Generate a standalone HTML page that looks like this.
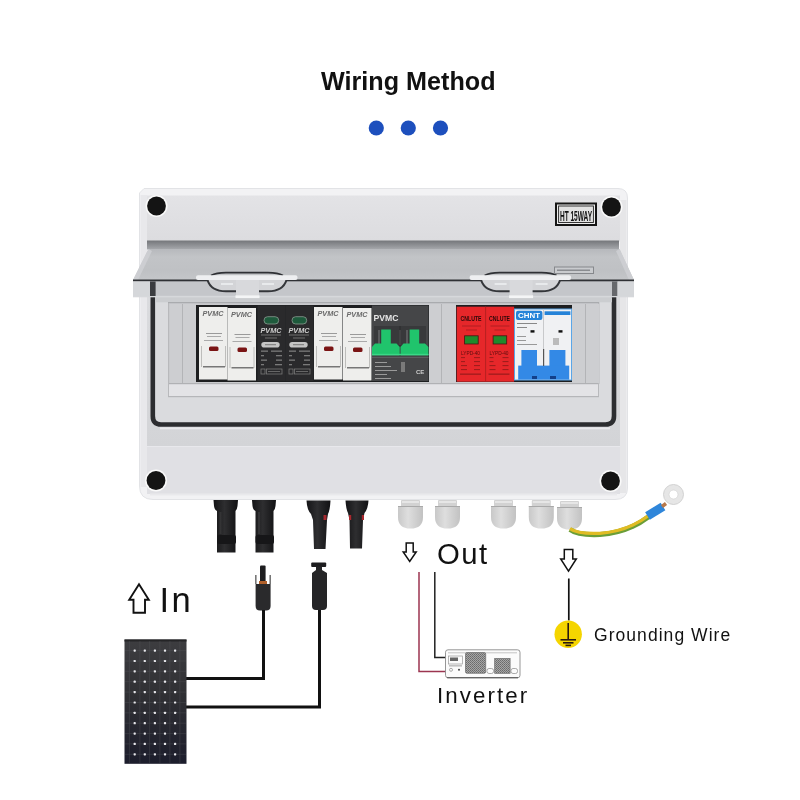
<!DOCTYPE html>
<html><head><meta charset="utf-8">
<style>
html,body{margin:0;padding:0;background:#fff;width:800px;height:800px;overflow:hidden}
svg{position:absolute;left:0;top:0;will-change:transform}
text{font-family:"Liberation Sans",sans-serif}
</style></head>
<body>
<svg width="800" height="800" viewBox="0 0 800 800">
<defs>
  <linearGradient id="lidg" x1="0" y1="0" x2="0" y2="1">
    <stop offset="0" stop-color="#b6b8bc"/>
    <stop offset="0.25" stop-color="#c2c4c7"/>
    <stop offset="0.7" stop-color="#bfc1c4"/>
    <stop offset="1" stop-color="#c4c6c9"/>
  </linearGradient>
  <linearGradient id="panelg" x1="0" y1="0" x2="0" y2="1">
    <stop offset="0" stop-color="#3d3d40"/>
    <stop offset="0.45" stop-color="#303034"/>
    <stop offset="1" stop-color="#1c1d2c"/>
  </linearGradient>
  <linearGradient id="gland" x1="0" y1="0" x2="1" y2="0">
    <stop offset="0" stop-color="#c8c8c8"/>
    <stop offset="0.4" stop-color="#dedede"/>
    <stop offset="1" stop-color="#c2c2c2"/>
  </linearGradient>
  <linearGradient id="lowg" x1="0" y1="0" x2="0" y2="1">
    <stop offset="0" stop-color="#dadbde"/>
    <stop offset="1" stop-color="#d3d4d7"/>
  </linearGradient>
  <linearGradient id="mc4" x1="0" y1="0" x2="1" y2="0">
    <stop offset="0" stop-color="#141416"/>
    <stop offset="0.45" stop-color="#2e2e30"/>
    <stop offset="1" stop-color="#111113"/>
  </linearGradient>
  <pattern id="mesh" width="2" height="2" patternUnits="userSpaceOnUse"><rect width="2" height="2" fill="#a6a6a6"/><rect width="1" height="1" fill="#6a6a6a"/><rect x="1" y="1" width="1" height="1" fill="#777"/></pattern>
</defs>

<!-- Title -->
<text x="408.3" y="90" font-size="26" font-weight="bold" text-anchor="middle" fill="#111" textLength="174.5" lengthAdjust="spacingAndGlyphs">Wiring Method</text>
<circle cx="376.3" cy="128" r="7.6" fill="#1d4fbd"/>
<circle cx="408.3" cy="128" r="7.6" fill="#1d4fbd"/>
<circle cx="440.5" cy="128" r="7.6" fill="#1d4fbd"/>

<!-- Box body -->
<path d="M144 188.5 H618 Q627.5 188.5 627.5 198 V488 Q627.5 499.5 615 499.5 H153 Q139.5 499.5 139.5 486 V193 Z" fill="#f2f2f4" stroke="#e2e3e6" stroke-width="1"/>
<linearGradient id="faceg" x1="0" y1="0" x2="0" y2="1"><stop offset="0" stop-color="#e3e3e6"/><stop offset="1" stop-color="#dcdcdf"/></linearGradient>
<rect x="147" y="195.5" width="473" height="46" fill="url(#faceg)"/>
<rect x="140.5" y="195" width="6.5" height="292" fill="#e8e8eb"/>
<rect x="620" y="200" width="6.5" height="293" fill="#e6e6e8"/>
<!-- bottom section -->
<rect x="147" y="447" width="473" height="47" fill="#e0e0e4"/>
<rect x="147" y="445.5" width="473" height="1.5" fill="#e8e8ec"/>
<rect x="150" y="493.5" width="467" height="2" fill="#e9e9ec"/>
<!-- lower strip -->
<rect x="147" y="297" width="473" height="149" fill="url(#lowg)"/>
<!-- inner area in gasket -->
<rect x="153" y="297" width="461" height="127" rx="5" fill="#dadbde"/>
<!-- DIN panel -->
<rect x="168" y="302" width="432" height="82" fill="#c9cacd"/>
<rect x="168" y="383" width="431" height="13" fill="#e3e3e6"/>
<rect x="168" y="383" width="431" height="1.2" fill="#b0b1b4"/>
<rect x="168" y="396" width="431" height="1.2" fill="#b5b6b9"/>
<rect x="168" y="302" width="1" height="94" fill="#b8b9bc"/>
<rect x="598" y="302" width="1" height="94" fill="#b8b9bc"/>
<!-- blank rails -->
<rect x="170" y="304" width="26" height="79" fill="#cdced1"/>
<rect x="182" y="304" width="1" height="79" fill="#b3b4b7"/>
<rect x="428" y="304" width="28" height="79" fill="#cdced1"/>
<rect x="441" y="304" width="1" height="79" fill="#b3b4b7"/>
<rect x="572" y="304" width="27" height="79" fill="#cdced1"/>
<rect x="585" y="304" width="1" height="79" fill="#b3b4b7"/>
<!-- gasket -->
<rect x="160" y="427.5" width="450" height="1.8" fill="#eaeaed"/>
<path d="M152.8 297 V416 Q152.8 424.5 161 424.5 H605.5 Q614 424.5 614 416 V297" fill="none" stroke="#2c2d30" stroke-width="4.6"/>

<!-- screws -->
<circle cx="156.5" cy="206" r="11" fill="#fafafa"/><circle cx="156.5" cy="206" r="9.4" fill="#141414"/>
<circle cx="611.5" cy="207" r="11" fill="#fafafa"/><circle cx="611.5" cy="207" r="9.4" fill="#141414"/>
<circle cx="156" cy="480.5" r="11" fill="#fafafa"/><circle cx="156" cy="480.5" r="9.4" fill="#141414"/>
<circle cx="610.5" cy="481" r="11" fill="#fafafa"/><circle cx="610.5" cy="481" r="9.4" fill="#141414"/>

<!-- label -->
<rect x="556" y="203.5" width="40" height="21.5" fill="#ededed" stroke="#151515" stroke-width="2"/><rect x="558.6" y="206" width="34.8" height="16.5" fill="#e2e2e2" stroke="#222" stroke-width="0.9"/>
<text x="576" y="220.5" font-size="14.5" font-weight="bold" text-anchor="middle" fill="#111" textLength="32" lengthAdjust="spacingAndGlyphs">HT 15WAY</text>

<!-- Lid -->
<linearGradient id="rimg" x1="0" y1="0" x2="0" y2="1"><stop offset="0" stop-color="#74767a"/><stop offset="0.5" stop-color="#8d8f93"/><stop offset="1" stop-color="#a7a9ad"/></linearGradient>
<rect x="147" y="240.5" width="472" height="9" fill="url(#rimg)"/>
<path d="M148.5 249 H619.5 L634 280 H133 Z" fill="url(#lidg)"/>
<path d="M148.5 249 L133 280 H138 L152 251 Z" fill="#cfd1d4" opacity="0.8"/>
<path d="M619.5 249 L634 280 H629 L616 251 Z" fill="#cfd1d4" opacity="0.8"/>
<rect x="133" y="279.5" width="501" height="2.2" fill="#2f3135"/>
<rect x="133" y="281.5" width="501" height="15" fill="#c4c6ca"/>
<rect x="133" y="295.8" width="501" height="1.5" fill="#d6d8db"/>
<rect x="133" y="281.5" width="17" height="14.5" fill="#d5d7da"/>
<rect x="150" y="281.5" width="5.6" height="14.5" fill="#3a3c40"/>
<rect x="612" y="281.5" width="5.5" height="14.5" fill="#66686c"/>
<rect x="617.5" y="281.5" width="16.5" height="14.5" fill="#d5d7da"/>
<rect x="155.6" y="297.3" width="456.4" height="5" fill="#cbcdd0"/><rect x="168" y="302" width="431" height="1.2" fill="#a9abae"/>

<!-- lid handles -->
<g id="h1">
<path d="M207.5 280 Q211 291.3 226 291.3 H268 Q283 291.3 286.5 280 Z" fill="#d3d4d7"/>
<path d="M207.5 280 Q211 291.3 226 291.3 H268 Q283 291.3 286.5 280" fill="none" stroke="#34363a" stroke-width="2"/>
<path d="M211 275.5 Q216 272.6 226 272.6 H268 Q278 272.6 283 275.5" fill="none" stroke="#2e3034" stroke-width="1.6"/>
<rect x="196" y="275.3" width="101.5" height="4.8" rx="2" fill="#eeeff1"/>
<rect x="236" y="280" width="23" height="15.5" fill="#d8d9dc"/>
<rect x="221" y="283" width="12" height="2" fill="#eeeff1" opacity="0.8"/>
<rect x="262" y="283" width="12" height="2" fill="#eeeff1" opacity="0.8"/>
<rect x="235.5" y="295.3" width="24" height="2.8" fill="#f4f5f6"/>
</g>
<use href="#h1" x="273.6"/>
<!-- small label on lid -->
<rect x="554.5" y="267" width="39" height="6.5" fill="#c9cbce" stroke="#86888c" stroke-width="1"/><rect x="557" y="269.5" width="33" height="1.5" fill="#8a8c90"/>

<!-- Components background rail -->
<rect x="196" y="305" width="233" height="77" fill="#1d1e20"/>
<rect x="456" y="305" width="116" height="77" fill="#1d1e20"/>

<!-- white fuses -->
<g id="fz">
<rect x="199" y="307" width="28.5" height="72.5" fill="#eeeeec"/>
<text x="213" y="316" font-size="6.5" font-weight="bold" font-style="italic" text-anchor="middle" fill="#6a6a6a" textLength="21" lengthAdjust="spacingAndGlyphs">PVMC</text>
<rect x="206" y="333" width="16" height="1" fill="#9a9a9a"/>
<rect x="207" y="336" width="14" height="1" fill="#aaa"/>
<rect x="204" y="340" width="19" height="1" fill="#aaa"/>
<rect x="209" y="346.5" width="9.5" height="4.5" rx="1.5" fill="#7a1414"/>
<rect x="201" y="346" width="1" height="21" fill="#bdbdbb"/>
<rect x="225" y="346" width="1" height="21" fill="#bdbdbb"/>
<rect x="203" y="366" width="22" height="1.5" fill="#777"/>
</g>
<use href="#fz" x="28.5" y="1"/>
<use href="#fz" x="115"/>
<use href="#fz" x="144" y="1"/>

<!-- black SPDs -->
<g id="spd">
<rect x="257.5" y="305.5" width="28" height="75.5" fill="#2a2a2c"/>
<rect x="264" y="316.7" width="14.7" height="7.3" rx="3.6" fill="#1e5a3c" stroke="#8a9a90" stroke-width="0.8"/>
<text x="271" y="332.5" font-size="7" font-weight="bold" font-style="italic" text-anchor="middle" fill="#d0d0d0" textLength="21" lengthAdjust="spacingAndGlyphs">PVMC</text>
<rect x="261" y="334.5" width="20" height="1" fill="#6e6e6e"/>
<rect x="265" y="337.5" width="12" height="1" fill="#6e6e6e"/>
<rect x="261.3" y="341.9" width="18.4" height="5.7" rx="2.8" fill="#c4c4c4"/>
<rect x="265" y="344.2" width="11" height="1" fill="#777"/>
<g fill="#7a7a7a">
<rect x="261" y="350.5" width="7" height="1.3"/><rect x="271" y="350.5" width="11" height="1.3"/>
<rect x="261" y="355" width="3" height="1.3"/><rect x="276" y="355" width="6" height="1.3"/>
<rect x="261" y="359.5" width="6" height="1.3"/><rect x="276" y="359.5" width="6" height="1.3"/>
<rect x="261" y="364" width="3" height="1.3"/><rect x="275" y="364" width="7" height="1.3"/>
</g>
<rect x="261" y="369" width="4" height="5" fill="none" stroke="#777" stroke-width="0.8"/>
<rect x="266.5" y="369" width="15.5" height="5" fill="none" stroke="#777" stroke-width="0.8"/>
<rect x="268" y="371" width="12" height="1" fill="#666"/>
</g>
<use href="#spd" x="28"/>

<!-- PVMC breaker -->
<rect x="372" y="305.5" width="56.5" height="75.5" fill="#454648"/>
<text x="373.5" y="320.5" font-size="9" font-weight="bold" fill="#e6e6e6" textLength="25" lengthAdjust="spacingAndGlyphs">PVMC</text>
<rect x="374" y="326" width="52" height="20" fill="#38393b"/>
<rect x="378" y="330" width="2" height="15" fill="#5a5b5d"/>
<rect x="399" y="330" width="2" height="15" fill="#5a5b5d"/>
<rect x="406" y="330" width="2" height="15" fill="#5a5b5d"/>
<rect x="399.5" y="326" width="1" height="30" fill="#2a2b2d"/>
<path d="M372 355.3 V347 L375 343.4 H381.2 V329.6 H390.8 V343.4 H396.5 L399.7 347 V355.3 Z" fill="#20c46c"/>
<path d="M400.5 355.3 V347 L403.5 343.4 H409.6 V329.6 H419.2 V343.4 H425 L428.4 347 V355.3 Z" fill="#20c46c"/>
<rect x="372" y="353.8" width="56.5" height="1.5" fill="#3ad886"/>
<rect x="372" y="357" width="56.5" height="1" fill="#5c5d5f"/>
<rect x="375" y="362" width="12" height="1" fill="#9a9a9a"/>
<rect x="375" y="366" width="16" height="1" fill="#9a9a9a"/>
<rect x="375" y="370" width="22" height="1" fill="#9a9a9a"/>
<rect x="375" y="374" width="12" height="1" fill="#9a9a9a"/>
<rect x="375" y="378" width="16" height="1" fill="#9a9a9a"/>
<rect x="401" y="362" width="4" height="10" fill="#7a7a7a"/>
<text x="416" y="374" font-size="6" font-weight="bold" fill="#cfcfcf">CE</text>

<!-- red SPDs -->
<g id="rs">
<rect x="456.7" y="306.7" width="28.9" height="75" fill="#e6272a"/>
<text x="471" y="320.5" font-size="7.5" font-weight="bold" text-anchor="middle" fill="#2a0808" textLength="21" lengthAdjust="spacingAndGlyphs">CNLUTE</text>
<rect x="462" y="325.5" width="19" height="1" fill="#b01e20"/>
<rect x="466" y="329.5" width="11" height="1" fill="#b01e20"/>
<rect x="464.6" y="335.8" width="13.6" height="8.2" fill="#1f8a2c" stroke="#4a1212" stroke-width="0.8"/>
<text x="461" y="354.5" font-size="5.5" fill="#5a0e0e" textLength="19" lengthAdjust="spacingAndGlyphs">LYPD-40</text>
<g fill="#a01c1c">
<rect x="461" y="357" width="4" height="1.1"/><rect x="474" y="357" width="6" height="1.1"/>
<rect x="461" y="361" width="4" height="1.1"/><rect x="474" y="361" width="6" height="1.1"/>
<rect x="461" y="365" width="6" height="1.1"/><rect x="474" y="365" width="6" height="1.1"/>
<rect x="461" y="369" width="6" height="1.1"/><rect x="474" y="369" width="6" height="1.1"/>
<rect x="460" y="373.5" width="21" height="1.3"/>
</g>
</g>
<use href="#rs" x="28.5"/>
<rect x="485.3" y="306.7" width="0.8" height="75" fill="#b01e20"/>

<!-- CHINT -->
<rect x="514.5" y="309" width="57" height="71" fill="#f0f1f3" stroke="#5aa6e8" stroke-width="1"/>
<rect x="516" y="310.8" width="26.4" height="9.1" rx="2" fill="#2583d8"/>
<text x="529" y="318.3" font-size="7.5" font-weight="bold" text-anchor="middle" fill="#fff" textLength="22" lengthAdjust="spacingAndGlyphs">CHNT</text>
<rect x="544.6" y="311.3" width="25.8" height="3.7" fill="#2583d8"/>
<rect x="543" y="309" width="1" height="71" fill="#c8c9cb"/>
<rect x="517" y="323" width="20" height="1" fill="#888"/>
<rect x="517" y="327" width="10" height="1" fill="#888"/>
<rect x="530.5" y="330.2" width="4" height="2.4" fill="#111"/>
<rect x="558.5" y="330.2" width="4" height="2.4" fill="#111"/>
<rect x="517" y="336" width="9" height="1" fill="#999"/>
<rect x="517" y="340" width="9" height="1" fill="#999"/>
<rect x="517" y="344" width="20" height="1" fill="#999"/>
<rect x="553" y="338" width="6" height="7" fill="#bbb"/>
<rect x="521.4" y="350" width="15.6" height="16" fill="#3389e6"/>
<rect x="549.4" y="350" width="16" height="16" fill="#3389e6"/>
<rect x="518.2" y="365.6" width="51" height="14" fill="#3389e6"/>
<rect x="532" y="376" width="5" height="3" fill="#123f8a"/>
<rect x="550" y="376" width="6" height="3" fill="#123f8a"/>
<rect x="543" y="349" width="1.2" height="17" fill="#555"/>

<!-- MC4 connectors on box -->
<path d="M213.5 500 H238 L237.5 506 Q237 510 235.5 511 V552.5 H217 V511 Q214.5 510 214 506 Z" fill="url(#mc4)"/>
<rect x="217" y="535" width="19" height="9" rx="2" fill="#161618"/>
<rect x="219.5" y="512" width="2" height="22" fill="#3a3a3c" opacity="0.7"/>
<path d="M252 500 H276 L275.5 506 Q275 510 273.5 511 V552.5 H255.5 V511 Q253 510 252.5 506 Z" fill="url(#mc4)"/>
<rect x="255.5" y="535" width="18.5" height="9" rx="2" fill="#161618"/>
<rect x="258" y="512" width="2" height="22" fill="#3a3a3c" opacity="0.7"/>
<path d="M306.5 500.5 H330.5 Q330 510 328 514 L327 520 L325.5 549 H314 L313 520 L311 514 Q307 510 306.5 500.5 Z" fill="url(#mc4)"/>
<path d="M345.5 500.5 H368.5 Q368 509 364.5 513 L363 520 L362 548.5 H350 L349.5 520 L348 513 Q346 509 345.5 500.5 Z" fill="url(#mc4)"/>
<rect x="323.5" y="515" width="3" height="5" fill="#a8282e"/>
<rect x="349" y="515" width="2.2" height="5" fill="#a8282e"/>
<rect x="361.8" y="515" width="2.2" height="5" fill="#a8282e"/>

<!-- glands -->
<g id="gl">
<rect x="401" y="500" width="19" height="6.5" rx="1" fill="#d2d2d2"/>
<rect x="402" y="501" width="17" height="2" fill="#e6e6e6"/>
<path d="M398 506 H423 V517 Q423 528.6 410.5 528.6 Q398 528.6 398 517 Z" fill="url(#gland)"/>
<rect x="398" y="506" width="25" height="1" fill="#a9a9a9"/>
</g>
<use href="#gl" x="37"/>
<use href="#gl" x="93"/>
<use href="#gl" x="130.8"/>
<use href="#gl" x="159" y="1"/>

<!-- ground wire -->
<path d="M570 529.5 Q578 535.5 600 534.5 Q628 532.5 649 516.5" fill="none" stroke="#6a9e38" stroke-width="5"/>
<path d="M570 528.6 Q578 534.3 600 533.3 Q628 531.3 649 515.3" fill="none" stroke="#e0bc24" stroke-width="3.2"/>
<path d="M647.5 516 L663 506.5" stroke="#2f86da" stroke-width="9"/>
<path d="M662 506.5 L666 503.5" stroke="#b8784a" stroke-width="3.5"/>
<circle cx="673.5" cy="494.5" r="7.2" fill="none" stroke="#e6e6e6" stroke-width="5.4"/>
<circle cx="673.5" cy="494.5" r="10" fill="none" stroke="#cdcdcd" stroke-width="0.9"/>
<circle cx="673.5" cy="494.5" r="4.5" fill="none" stroke="#d2d2d2" stroke-width="0.7"/>

<!-- arrows -->
<path d="M406.2 543 H413.2 V552 H416.2 L409.7 561.5 L403.2 552 H406.2 Z" fill="#fff" stroke="#111" stroke-width="1.5"/>
<path d="M564.3 549.5 H572.8 V559 H576.3 L568.5 571.2 L560.7 559 H564.3 Z" fill="#fff" stroke="#111" stroke-width="1.5"/>
<path d="M139 584.2 L148.8 599.7 H145 V612.7 H133.5 V599.7 H129.2 Z" fill="#fff" stroke="#111" stroke-width="1.9"/>

<!-- texts -->
<text x="437" y="564" font-size="29.3" fill="#111" letter-spacing="1.5">Out</text>
<text x="159.5" y="612" font-size="34.5" fill="#111" letter-spacing="2.4">In</text>
<text x="437" y="703" font-size="22.3" fill="#111" letter-spacing="2.1">Inverter</text>
<text x="594" y="641.3" font-size="17.5" fill="#111" letter-spacing="1.05">Grounding Wire</text>

<!-- connectors loose -->
<rect x="260" y="565.5" width="5.6" height="19" rx="1" fill="#1d1d1f"/>
<rect x="255" y="575" width="1.6" height="9" fill="#777"/>
<rect x="269.4" y="575" width="1.6" height="9" fill="#777"/>
<rect x="259" y="581" width="8" height="3" fill="#b0602a"/>
<path d="M255.6 584 H270.6 V606 Q270.6 610.6 266 610.6 H260 Q255.6 610.6 255.6 606 Z" fill="#2a2a2c"/>
<rect x="311.2" y="562.5" width="15" height="4.5" rx="1" fill="#1d1d1f"/>
<path d="M316 566.5 H322 V570 L327 573 V606 Q327 610 323 610 H316 Q312 610 312 606 V573 L316 570 Z" fill="#252527"/>

<!-- wires -->
<path d="M186 678.5 H263.5 V610" fill="none" stroke="#111" stroke-width="3"/>
<path d="M186 707 H319.5 V610" fill="none" stroke="#111" stroke-width="3"/>

<!-- solar panel -->
<rect x="124.5" y="639.5" width="62" height="124.3" fill="url(#panelg)"/>
<rect x="124.5" y="639.5" width="62" height="2" fill="#242426"/>
<g stroke="#56575c" stroke-width="0.6" opacity="0.55"><line x1="129.4" y1="641" x2="129.4" y2="763"/><line x1="139.9" y1="641" x2="139.9" y2="763"/><line x1="149.6" y1="641" x2="149.6" y2="763"/><line x1="159.9" y1="641" x2="159.9" y2="763"/><line x1="169.9" y1="641" x2="169.9" y2="763"/><line x1="179.9" y1="641" x2="179.9" y2="763"/><line x1="125" y1="650.6" x2="186" y2="650.6"/><line x1="125" y1="661.0" x2="186" y2="661.0"/><line x1="125" y1="671.3" x2="186" y2="671.3"/><line x1="125" y1="681.7" x2="186" y2="681.7"/><line x1="125" y1="692.1" x2="186" y2="692.1"/><line x1="125" y1="702.5" x2="186" y2="702.5"/><line x1="125" y1="712.8" x2="186" y2="712.8"/><line x1="125" y1="723.2" x2="186" y2="723.2"/><line x1="125" y1="733.6" x2="186" y2="733.6"/><line x1="125" y1="743.9" x2="186" y2="743.9"/><line x1="125" y1="754.3" x2="186" y2="754.3"/></g>
<g fill="#e6e6ea"><rect x="133.6" y="649.5" width="2.2" height="2.2" rx="0.6"/><rect x="133.6" y="659.9" width="2.2" height="2.2" rx="0.6"/><rect x="133.6" y="670.2" width="2.2" height="2.2" rx="0.6"/><rect x="133.6" y="680.6" width="2.2" height="2.2" rx="0.6"/><rect x="133.6" y="691.0" width="2.2" height="2.2" rx="0.6"/><rect x="133.6" y="701.4" width="2.2" height="2.2" rx="0.6"/><rect x="133.6" y="711.7" width="2.2" height="2.2" rx="0.6"/><rect x="133.6" y="722.1" width="2.2" height="2.2" rx="0.6"/><rect x="133.6" y="732.5" width="2.2" height="2.2" rx="0.6"/><rect x="133.6" y="742.8" width="2.2" height="2.2" rx="0.6"/><rect x="133.6" y="753.2" width="2.2" height="2.2" rx="0.6"/><rect x="143.7" y="649.5" width="2.2" height="2.2" rx="0.6"/><rect x="143.7" y="659.9" width="2.2" height="2.2" rx="0.6"/><rect x="143.7" y="670.2" width="2.2" height="2.2" rx="0.6"/><rect x="143.7" y="680.6" width="2.2" height="2.2" rx="0.6"/><rect x="143.7" y="691.0" width="2.2" height="2.2" rx="0.6"/><rect x="143.7" y="701.4" width="2.2" height="2.2" rx="0.6"/><rect x="143.7" y="711.7" width="2.2" height="2.2" rx="0.6"/><rect x="143.7" y="722.1" width="2.2" height="2.2" rx="0.6"/><rect x="143.7" y="732.5" width="2.2" height="2.2" rx="0.6"/><rect x="143.7" y="742.8" width="2.2" height="2.2" rx="0.6"/><rect x="143.7" y="753.2" width="2.2" height="2.2" rx="0.6"/><rect x="153.8" y="649.5" width="2.2" height="2.2" rx="0.6"/><rect x="153.8" y="659.9" width="2.2" height="2.2" rx="0.6"/><rect x="153.8" y="670.2" width="2.2" height="2.2" rx="0.6"/><rect x="153.8" y="680.6" width="2.2" height="2.2" rx="0.6"/><rect x="153.8" y="691.0" width="2.2" height="2.2" rx="0.6"/><rect x="153.8" y="701.4" width="2.2" height="2.2" rx="0.6"/><rect x="153.8" y="711.7" width="2.2" height="2.2" rx="0.6"/><rect x="153.8" y="722.1" width="2.2" height="2.2" rx="0.6"/><rect x="153.8" y="732.5" width="2.2" height="2.2" rx="0.6"/><rect x="153.8" y="742.8" width="2.2" height="2.2" rx="0.6"/><rect x="153.8" y="753.2" width="2.2" height="2.2" rx="0.6"/><rect x="163.9" y="649.5" width="2.2" height="2.2" rx="0.6"/><rect x="163.9" y="659.9" width="2.2" height="2.2" rx="0.6"/><rect x="163.9" y="670.2" width="2.2" height="2.2" rx="0.6"/><rect x="163.9" y="680.6" width="2.2" height="2.2" rx="0.6"/><rect x="163.9" y="691.0" width="2.2" height="2.2" rx="0.6"/><rect x="163.9" y="701.4" width="2.2" height="2.2" rx="0.6"/><rect x="163.9" y="711.7" width="2.2" height="2.2" rx="0.6"/><rect x="163.9" y="722.1" width="2.2" height="2.2" rx="0.6"/><rect x="163.9" y="732.5" width="2.2" height="2.2" rx="0.6"/><rect x="163.9" y="742.8" width="2.2" height="2.2" rx="0.6"/><rect x="163.9" y="753.2" width="2.2" height="2.2" rx="0.6"/><rect x="174.0" y="649.5" width="2.2" height="2.2" rx="0.6"/><rect x="174.0" y="659.9" width="2.2" height="2.2" rx="0.6"/><rect x="174.0" y="670.2" width="2.2" height="2.2" rx="0.6"/><rect x="174.0" y="680.6" width="2.2" height="2.2" rx="0.6"/><rect x="174.0" y="691.0" width="2.2" height="2.2" rx="0.6"/><rect x="174.0" y="701.4" width="2.2" height="2.2" rx="0.6"/><rect x="174.0" y="711.7" width="2.2" height="2.2" rx="0.6"/><rect x="174.0" y="722.1" width="2.2" height="2.2" rx="0.6"/><rect x="174.0" y="732.5" width="2.2" height="2.2" rx="0.6"/><rect x="174.0" y="742.8" width="2.2" height="2.2" rx="0.6"/><rect x="174.0" y="753.2" width="2.2" height="2.2" rx="0.6"/></g>

<!-- inverter lines -->
<path d="M419 572 V671.5 H446" fill="none" stroke="#9c3550" stroke-width="1.5"/>
<path d="M434.8 572 V657.5 H446" fill="none" stroke="#222" stroke-width="1.5"/>
<rect x="445.5" y="649.8" width="74.5" height="28" rx="2.5" fill="#fbfbfb" stroke="#8a8a8a" stroke-width="0.9"/>
<line x1="447" y1="677.6" x2="518" y2="677.6" stroke="#666" stroke-width="1.2"/>
<line x1="448" y1="652.8" x2="517" y2="652.8" stroke="#b5b5b5" stroke-width="0.8"/>
<rect x="448.5" y="656" width="14" height="8" fill="none" stroke="#999" stroke-width="0.7"/>
<rect x="450" y="657.5" width="8" height="3.5" fill="#666"/>
<rect x="449" y="665.5" width="13" height="0.8" fill="#888"/>
<circle cx="451" cy="669.8" r="1.5" fill="none" stroke="#888" stroke-width="0.7"/>
<circle cx="459" cy="669.8" r="1" fill="#444"/>
<rect x="465.5" y="652.6" width="20.2" height="20.7" rx="1.5" fill="url(#mesh)" stroke="#6a6a6a" stroke-width="0.7"/>
<rect x="494.7" y="658.5" width="15.4" height="14.8" fill="url(#mesh)" stroke="#6a6a6a" stroke-width="0.7"/>
<rect x="487" y="668.5" width="6.5" height="5" rx="2" fill="none" stroke="#888" stroke-width="0.7"/>
<rect x="511" y="668.5" width="6.5" height="5" rx="2" fill="none" stroke="#888" stroke-width="0.7"/>

<!-- ground symbol -->
<line x1="568.8" y1="578.5" x2="568.8" y2="620.5" stroke="#111" stroke-width="1.7"/>
<circle cx="568.2" cy="634.2" r="13.7" fill="#f5d500"/>
<g stroke="#2a1a10" stroke-width="1.6">
<line x1="568.2" y1="623" x2="568.2" y2="640"/>
<line x1="560.5" y1="639.8" x2="576" y2="639.8"/>
<line x1="563" y1="642.8" x2="573.5" y2="642.8"/>
<line x1="565.5" y1="645.4" x2="571" y2="645.4"/>
</g>
</svg>
</body></html>
